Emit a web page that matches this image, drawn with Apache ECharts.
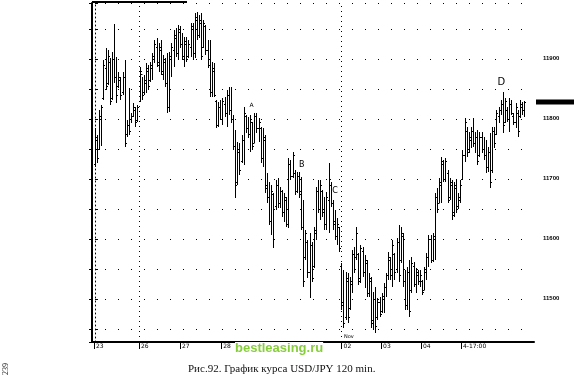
<!DOCTYPE html>
<html><head><meta charset="utf-8">
<script src="https://cdn.jsdelivr.net/npm/echarts@6/dist/echarts.min.js"></script>
<style>html,body{margin:0;padding:0;background:#fff;}#c{width:574px;height:378px;}</style>
</head><body><div id="c"></div>
<script>
// USD/JPY 120 min bars (price x100)
const highs = [
11785,11773,11815,11823,11898,11918,11915,11902,11912,11958,
11903,11878,11870,11878,11898,11798,11852,11810,11827,11820,
11823,11887,11870,11873,11893,11890,11895,11910,11932,11935,
11927,11932,11907,11902,11910,11912,11927,11948,11952,11957,
11955,11943,11937,11937,11932,11960,11960,11977,11978,11973,
11977,11965,11957,11932,11932,11895,11893,11832,11828,11832,
11835,11837,11848,11853,11853,11807,11782,11762,11760,11773,
11820,11807,11803,11807,11795,11810,11810,11802,11787,11785,
11773,11710,11695,11690,11677,11698,11702,11687,11682,11677,
11670,11735,11732,11745,11715,11712,11712,11703,11665,11615,
11598,11610,11595,11620,11687,11698,11698,11682,11670,11678,
11727,11695,11665,11648,11635,11620,11560,11548,11545,11543,
11537,11582,11587,11620,11577,11590,11587,11573,11565,11543,
11537,11512,11520,11502,11503,11510,11527,11543,11578,11570,
11598,11577,11602,11623,11620,11610,11548,11553,11565,11570,
11562,11552,11548,11548,11532,11553,11577,11607,11607,11610,
11677,11685,11702,11737,11732,11735,11715,11702,11698,11695,
11698,11677,11698,11748,11802,11787,11778,11787,11802,11778,
11782,11778,11778,11770,11765,11753,11777,11787,11787,11815,
11820,11832,11845,11835,11820,11835,11832,11810,11827,11815,
11832,11828,11830];
const lows = [
11720,11727,11748,11755,11832,11848,11857,11823,11832,11860,
11827,11852,11832,11840,11753,11770,11773,11793,11803,11787,
11795,11828,11832,11840,11843,11848,11862,11865,11893,11887,
11878,11873,11865,11853,11810,11812,11870,11887,11903,11898,
11918,11898,11887,11895,11902,11903,11898,11902,11932,11935,
11898,11918,11907,11885,11837,11837,11837,11785,11787,11798,
11790,11803,11787,11807,11793,11748,11668,11690,11707,11727,
11723,11777,11768,11745,11748,11760,11777,11762,11727,11720,
11677,11660,11623,11607,11585,11648,11652,11652,11637,11628,
11620,11618,11698,11702,11673,11677,11668,11615,11520,11565,
11535,11502,11528,11552,11598,11643,11632,11637,11615,11615,
11610,11653,11615,11598,11590,11578,11482,11452,11465,11460,
11482,11510,11543,11565,11523,11527,11537,11518,11503,11503,
11452,11448,11443,11465,11470,11477,11477,11503,11532,11532,
11520,11532,11543,11528,11560,11520,11482,11482,11470,11510,
11520,11510,11523,11520,11507,11515,11532,11553,11560,11562,
11565,11643,11660,11660,11695,11695,11660,11665,11632,11637,
11643,11650,11660,11698,11728,11737,11743,11752,11753,11743,
11723,11737,11743,11732,11710,11712,11685,11710,11752,11773,
11793,11807,11777,11793,11795,11778,11807,11790,11785,11770,
11802,11807,11803];
const opens = [
11725,11765,11750,11800,11835,11885,11860,11895,11835,11900,
11870,11855,11865,11845,11870,11775,11790,11800,11805,11815,
11798,11830,11875,11845,11860,11880,11865,11885,11900,11920,
11890,11915,11875,11895,11860,11820,11900,11915,11935,11910,
11945,11925,11905,11925,11905,11920,11950,11910,11965,11940,
11960,11920,11955,11915,11890,11845,11880,11830,11790,11820,
11800,11825,11810,11840,11815,11800,11755,11695,11745,11730,
11765,11805,11785,11775,11795,11760,11805,11785,11785,11735,
11765,11690,11670,11630,11675,11655,11690,11660,11680,11645,
11665,11625,11725,11705,11710,11680,11705,11680,11620,11570,
11595,11545,11590,11555,11610,11680,11650,11680,11650,11625,
11665,11690,11660,11630,11605,11620,11555,11495,11470,11530,
11485,11525,11575,11570,11575,11535,11580,11545,11560,11510,
11530,11465,11500,11470,11495,11480,11500,11520,11540,11565,
11540,11575,11550,11595,11565,11605,11530,11490,11545,11515,
11555,11525,11540,11530,11530,11515,11545,11570,11600,11565,
11600,11670,11660,11690,11725,11700,11710,11670,11690,11645,
11685,11655,11665,11700,11740,11780,11750,11765,11780,11760,
11770,11740,11770,11750,11740,11720,11745,11715,11780,11775,
11805,11815,11825,11795,11815,11800,11825,11805,11795,11810,
11805,11820,11815];
const closes = [
11770,11735,11805,11820,11890,11855,11905,11830,11900,11870,
11840,11870,11840,11870,11760,11790,11780,11805,11820,11795,
11820,11880,11840,11865,11885,11855,11890,11905,11925,11895,
11920,11880,11900,11860,11820,11905,11920,11940,11910,11950,
11925,11905,11930,11900,11925,11955,11910,11970,11940,11965,
11905,11960,11915,11890,11845,11885,11840,11790,11820,11800,
11830,11810,11840,11815,11800,11755,11690,11750,11715,11765,
11810,11785,11775,11800,11755,11805,11785,11795,11735,11770,
11685,11670,11630,11680,11600,11690,11660,11680,11645,11670,
11625,11725,11705,11740,11680,11705,11675,11620,11530,11610,
11545,11590,11535,11615,11680,11650,11690,11645,11625,11670,
11700,11660,11625,11605,11625,11585,11490,11460,11535,11470,
11530,11575,11550,11610,11530,11585,11545,11565,11510,11535,
11460,11500,11455,11495,11475,11505,11520,11540,11570,11540,
11590,11545,11595,11540,11610,11530,11490,11545,11480,11560,
11525,11545,11530,11540,11512,11550,11570,11600,11565,11605,
11670,11650,11695,11730,11700,11730,11665,11695,11640,11690,
11650,11670,11690,11740,11795,11745,11770,11780,11760,11770,
11730,11770,11750,11740,11720,11745,11695,11780,11760,11810,
11815,11825,11790,11830,11800,11825,11810,11795,11820,11780,
11825,11815,11828];

// time axis labels (bar index where each label sits)
const dayLabels = ['23','26','27','28','29','30','02','03','04','4-17:00'];
const dayIdx = [-0.5, 20.7, 40, 59.4, 78.6, 97.5, 116.1, 134.7, 153.5, 172.3];
const weekStarts = [20.7, 116.1];

// handwritten marks on the chart
const noteText = ['A','B','C','D','Nov'];
const noteIdx = [73.7, 97.3, 113.0, 191.3, 119.5];
const noteVal = [11823, 11723, 11680, 11860, 11436];
const noteSize = [6, 8, 8, 10, 5];

const yMin = 11428, yMax = 11993;

const data = highs.map((h, i) => [i, opens[i], h, lows[i], closes[i]]);

const chart = echarts.init(document.getElementById('c'), null, {renderer: 'canvas'});

function renderItem(params, api) {
  const x = api.value(0);
  const pH = api.coord([x, api.value(2)]);
  const pL = api.coord([x, api.value(3)]);
  const pO = api.coord([x, api.value(1)]);
  const pC = api.coord([x, api.value(4)]);
  const X = Math.round(pH[0]) + 0.5;
  const st = {stroke: '#000', lineWidth: 1};
  return {
    type: 'group',
    children: [
      {type: 'line', shape: {x1: X, y1: Math.round(pH[1]), x2: X, y2: Math.round(pL[1])}, style: st},
      {type: 'line', shape: {x1: X - 1.5, y1: Math.round(pO[1]) + 0.5, x2: X, y2: Math.round(pO[1]) + 0.5}, style: st},
      {type: 'line', shape: {x1: X, y1: Math.round(pC[1]) + 0.5, x2: X + 1.5, y2: Math.round(pC[1]) + 0.5}, style: st}
    ]
  };
}

function dayFmt(v) {
  for (let i = 0; i < dayIdx.length; i++) if (Math.abs(dayIdx[i] - v) < 0.05) return dayLabels[i];
  return '';
}

const yCommon = {
  type: 'value', min: yMin, max: yMax, splitNumber: 11, minInterval: 50, maxInterval: 50
};

chart.setOption({
  animation: false,
  backgroundColor: '#fff',
  grid: {left: 92, right: 40, top: 3, bottom: 36},
  xAxis: {
    type: 'value', min: -1.41, max: 206.7,
    axisLine: {show: true, onZero: false, lineStyle: {color: '#000', width: 2}},
    axisTick: {show: true, customValues: dayIdx, length: 7, inside: false, lineStyle: {color: '#000', width: 1}},
    axisLabel: {show: true, customValues: dayIdx, formatter: dayFmt, align: 'left', padding: [0, 0, 0, 2],
      fontSize: 6, color: '#000', margin: 1, fontFamily: 'DejaVu Sans'},
    splitLine: {show: false}
  },
  yAxis: [
    Object.assign({}, yCommon, {
      position: 'right',
      axisLine: {show: true, lineStyle: {color: '#000', width: 1, type: [1, 3]}},
      axisTick: {show: true, length: 3, lineStyle: {color: '#000'}},
      axisLabel: {formatter: v => (v % 100 === 0 ? String(v) : ''), fontSize: 6, margin: 9, color: '#000',
        fontFamily: 'Liberation Sans', fontWeight: 'bold'},
      splitLine: {show: true, lineStyle: {color: '#000', width: 1, type: [1, 12]}}
    }),
    Object.assign({}, yCommon, {
      position: 'left',
      axisLine: {show: true, lineStyle: {color: '#000', width: 2}},
      axisTick: {show: true, length: 3, inside: false, lineStyle: {color: '#000'}},
      axisLabel: {show: false},
      splitLine: {show: false}
    })
  ],
  series: [{
    type: 'custom',
    renderItem: renderItem,
    data: data,
    encode: {x: 0, y: [1, 2, 3, 4]},
    yAxisIndex: 0,
    clip: true,
    markLine: {
      silent: true, symbol: 'none', label: {show: false},
      lineStyle: {color: '#000', width: 1, type: [1, 4]},
      data: weekStarts.map(v => ({xAxis: v}))
    },
    markPoint: {
      silent: true, symbol: 'rect', symbolSize: 1, itemStyle: {color: 'rgba(0,0,0,0)'},
      data: noteText.map((t, i) => ({
        name: t, coord: [noteIdx[i], noteVal[i]],
        label: {show: true, position: 'inside', formatter: '{b}', fontSize: noteSize[i], color: '#000',
          fontFamily: 'DejaVu Sans'}
      }))
    }
  }]
});

const lastY = chart.convertToPixel({yAxisIndex: 0}, closes[closes.length - 1]);
const gridRight = 574 - 40;

chart.setOption({
  graphic: [
    {type: 'line', shape: {x1: 92, y1: 2, x2: 187, y2: 2}, style: {stroke: '#000', lineWidth: 2}},
    {type: 'rect', shape: {x: gridRight + 2, y: Math.round(lastY) - 2.5, width: 40, height: 5}, style: {fill: '#000'}},
    {type: 'text', x: 235, y: 342, z: 100,
      style: {text: 'bestleasing.ru', font: 'bold 13px "Liberation Sans"', fill: '#86cf3a',
        backgroundColor: '#fff', textVerticalAlign: 'top'}},
    {type: 'text', x: 188, y: 364,
      style: {text: 'Рис.92. График курса USD/JPY 120 min.', font: '11px "Liberation Serif"', fill: '#111',
        textVerticalAlign: 'top'}},
    {type: 'text', x: 2, y: 375, rotation: Math.PI / 2,
      style: {text: '239', font: '8px "Liberation Serif"', fill: '#222', textVerticalAlign: 'top'}}
  ]
});
</script>
</body></html>
